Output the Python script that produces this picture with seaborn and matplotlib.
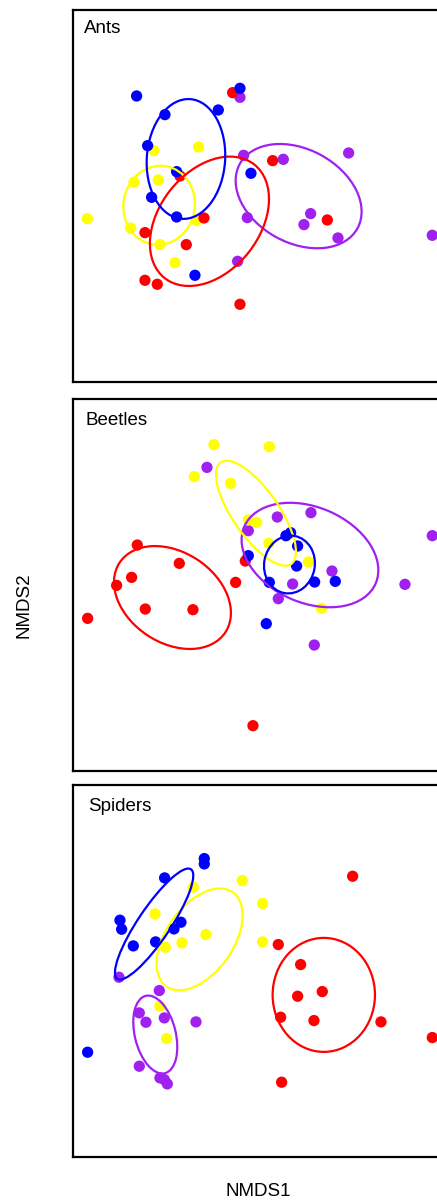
"""
NMDS ordination of ants, beetles and spiders, four groups with ellipses
Usage: python plot.py
"""

import pandas as pd
import matplotlib
matplotlib.use("Agg")
import matplotlib.pyplot as plt
from matplotlib.patches import Ellipse
import seaborn as sns

# groups, in drawing order
GROUPS = ["purple", "yellow", "red", "blue"]
COLORS = {"red": "#FF0000", "blue": "#0000FF", "yellow": "#FFFF00", "purple": "#A020F0"}

# Ants
ants_purple_x = [-0.116, -0.094, 0.144, 0.536, -0.072, 0.308, 0.268, 0.472, -0.130, 1.038]
ants_purple_y = [0.592, 0.244, 0.220, 0.258, -0.130, -0.106, -0.172, -0.252, -0.392, -0.236]
ants_yellow_x = [-1.032, -0.632, -0.364, -0.752, -0.606, -0.772, -0.596, -0.506, -0.376]
ants_yellow_y = [-0.136, 0.272, 0.294, 0.082, 0.096, -0.192, -0.292, -0.400, -0.148]
ants_red_x = [-0.160, -0.476, 0.080, -0.332, -0.686, -0.438, -0.686, -0.612, -0.116, 0.408]
ants_red_y = [0.620, 0.120, 0.212, -0.132, -0.220, -0.292, -0.506, -0.530, -0.650, -0.144]
ants_blue_x = [-0.736, -0.566, -0.246, -0.670, -0.496, -0.050, -0.646, -0.496, -0.386, -0.116]
ants_blue_y = [0.600, 0.488, 0.516, 0.302, 0.146, 0.136, -0.008, -0.126, -0.476, 0.646]
# ellipses: (centre x, centre y, width, height, angle)
ants_ell = {
    "purple": (0.236, -0.001, 0.805, 0.561, -28.7),
    "yellow": (-0.601, -0.056, 0.476, 0.428, 80.0),
    "red":    (-0.299, -0.152, 0.868, 0.600, 51.8),
    "blue":   (-0.440, 0.222, 0.720, 0.470, 86.0),
}

# Beetles
beet_purple_x = [-0.314, 0.108, 0.310, -0.066, 0.436, 0.200, 0.114, 0.874, 0.330, 1.038]
beet_purple_y = [0.706, 0.408, 0.434, 0.326, 0.084, 0.006, -0.082, 0.004, -0.360, 0.296]
beet_yellow_x = [-0.272, 0.060, -0.390, -0.172, -0.066, -0.016, 0.058, 0.294, 0.374]
beet_yellow_y = [0.842, 0.830, 0.650, 0.610, 0.390, 0.376, 0.250, 0.138, -0.140]
beet_red_x = [-0.732, -0.480, -0.084, -0.766, -0.856, -0.142, -0.684, -0.398, -1.030, -0.038]
beet_red_y = [0.240, 0.130, 0.144, 0.046, -0.002, 0.016, -0.144, -0.148, -0.200, -0.844]
beet_blue_x = [0.160, 0.188, 0.230, -0.066, 0.224, 0.060, 0.332, 0.456, 0.042]
beet_blue_y = [0.296, 0.314, 0.234, 0.176, 0.114, 0.016, 0.018, 0.022, -0.232]
beet_ell = {
    "purple": (0.304, 0.180, 0.859, 0.573, -23.4),
    "yellow": (-0.020, 0.431, 0.742, 0.277, -55.3),
    "red":    (-0.521, -0.075, 0.760, 0.544, -33.4),
    "blue":   (0.181, 0.123, 0.348, 0.304, 80.0),
}

# Spiders
spid_purple_x = [-0.842, -0.600, -0.720, -0.680, -0.570, -0.380, -0.720, -0.596, -0.570, -0.552]
spid_purple_y = [-0.037, -0.117, -0.251, -0.307, -0.281, -0.305, -0.571, -0.641, -0.651, -0.677]
spid_yellow_x = [-0.396, -0.102, 0.020, -0.626, -0.320, -0.464, -0.564, 0.020, -0.596, -0.556]
spid_yellow_y = [0.503, 0.543, 0.405, 0.343, 0.219, 0.169, 0.143, 0.175, -0.211, -0.405]
spid_red_x = [0.560, 0.114, 0.248, 0.230, 0.378, 0.128, 0.328, 0.730, 1.038, 0.134]
spid_red_y = [0.569, 0.159, 0.039, -0.151, -0.123, -0.277, -0.297, -0.305, -0.399, -0.667]
spid_blue_x = [-0.330, -0.330, -0.568, -0.836, -0.826, -0.470, -0.512, -0.622, -0.756, -1.030]
spid_blue_y = [0.675, 0.643, 0.559, 0.305, 0.251, 0.293, 0.253, 0.175, 0.151, -0.487]
spid_ell = {
    "purple": (-0.624, -0.381, 0.478, 0.245, -76.1),
    "yellow": (-0.358, 0.190, 0.691, 0.402, 54.8),
    "red":    (0.387, -0.143, 0.684, 0.614, 90.0),
    "blue":   (-0.631, 0.282, 0.792, 0.193, 56.1),
}

PANELS = [
    ("Ants", {"purple": (ants_purple_x, ants_purple_y), "yellow": (ants_yellow_x, ants_yellow_y),
              "red": (ants_red_x, ants_red_y), "blue": (ants_blue_x, ants_blue_y)}, ants_ell),
    ("Beetles", {"purple": (beet_purple_x, beet_purple_y), "yellow": (beet_yellow_x, beet_yellow_y),
                 "red": (beet_red_x, beet_red_y), "blue": (beet_blue_x, beet_blue_y)}, beet_ell),
    ("Spiders", {"purple": (spid_purple_x, spid_purple_y), "yellow": (spid_yellow_x, spid_yellow_y),
                 "red": (spid_red_x, spid_red_y), "blue": (spid_blue_x, spid_blue_y)}, spid_ell),
]

# layout (figure fractions)
AX_LEFT, AX_W, AX_H = 0.1677, 0.8513, 0.3092
AX_BOTTOMS = [0.6825, 0.3591, 0.0382]
TITLE_POS = [(0.029, 0.972), (0.034, 0.964), (0.041, 0.966)]
LIM = 1.116

sns.set_style("white")
plt.rcParams["font.family"] = ["Liberation Sans", "DejaVu Sans"]
plt.rcParams["text.color"] = "black"

fig = plt.figure(figsize=(4.37, 12.03), dpi=100)

for (name, pts, ells), bottom, tpos in zip(PANELS, AX_BOTTOMS, TITLE_POS):
    ax = fig.add_axes([AX_LEFT, bottom, AX_W, AX_H])
    df = pd.concat([pd.DataFrame({"NMDS1": pts[g][0], "NMDS2": pts[g][1], "group": g})
                    for g in GROUPS], ignore_index=True)
    sns.scatterplot(data=df, x="NMDS1", y="NMDS2", hue="group", palette=COLORS,
                    s=66, linewidth=0, legend=False, ax=ax, zorder=2)
    for g in GROUPS:
        cx, cy, w, h, ang = ells[g]
        ax.add_patch(Ellipse((cx, cy), w, h, angle=ang, fill=False,
                             edgecolor=COLORS[g], linewidth=1.6, zorder=3))
    ax.set_xlim(-LIM, LIM)
    ax.set_ylim(-LIM, LIM)
    ax.set_xticks([])
    ax.set_yticks([])
    ax.set_xlabel("")
    ax.set_ylabel("")
    for sp in ax.spines.values():
        sp.set_color("black")
        sp.set_linewidth(1.6)
    ax.text(tpos[0], tpos[1], name, transform=ax.transAxes, ha="left", va="top",
            fontsize=13.5, color="black")

fig.text(258 / 437, 1 - 1191 / 1203, "NMDS1", ha="center", va="center", fontsize=13.5)
fig.text(24 / 437, 1 - 605 / 1203, "NMDS2", ha="center", va="center", rotation=90, fontsize=13.5)

fig.savefig("out.png", dpi=100)
